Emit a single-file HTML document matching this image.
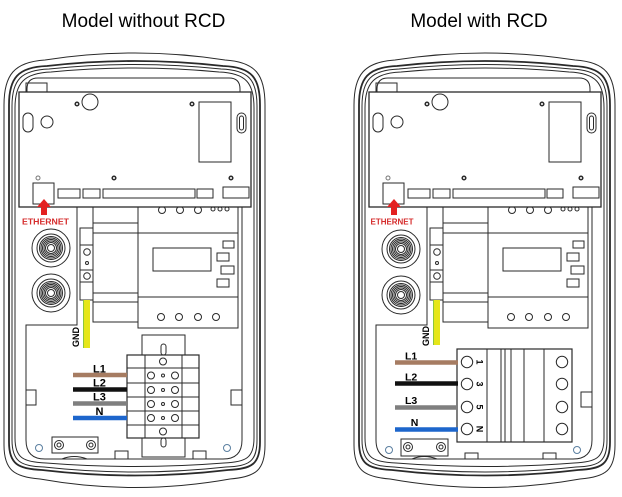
<!DOCTYPE html>
<html><head><meta charset="utf-8"><style>
html,body{margin:0;padding:0;background:#fff;}
svg{display:block;font-family:"Liberation Sans",Arial,sans-serif;}
</style></head><body>
<svg width="622" height="497" viewBox="0 0 622 497" xmlns="http://www.w3.org/2000/svg">
<rect width="622" height="497" fill="#fff"/>
<text x="143.5" y="27" font-size="19" text-anchor="middle" fill="#000">Model without RCD</text>
<text x="479" y="27" font-size="19" text-anchor="middle" fill="#000">Model with RCD</text>

<!-- ================= LEFT ================= -->
<g fill="none" stroke="#2a2a2a" stroke-width="1">
 <path d="M4,105 C4,75 14,62 45,60 Q135,46 225,60 C256,62 265,75 265,105 L265,445 C265,470 256,477 230,479 Q135,496 40,479 C14,477 4,470 4,445 Z"/>
 <path stroke-width="1.8" d="M9,105 C9,78 18,67 47,66 Q135,56 223,66 C252,67 260,78 260,105 L260,442 C260,464 252,469 228,470 Q135,481 42,470 C18,469 9,464 9,442 Z"/>
 <path d="M12,106 C12,80 21,70 49,69 Q135,60 221,69 C249,70 257,80 257,106 L257,440 C257,462 249,466 226,467 Q135,477 44,467 C21,466 12,462 12,440 Z"/>
 <path d="M15,108 C15,83 24,73 51,72 Q135,64 219,72 C246,73 254,83 254,108 L254,438 C254,458 246,462 224,463 Q135,470 46,463 C23,462 15,458 15,438 Z"/>
 <path d="M27,92 L27,89 Q27,78 38,78 L229,78 Q240,78 240,89 L240,92"/>
 <rect x="26" y="83" width="21" height="9"/>
 <!-- compartments -->
 <path d="M77,207 V325 H26 V440 Q26,459 45,459 H223 Q242,459 242,440 V207"/>
 <path d="M26,390 H36 V405 H26"/>
 <path d="M242,390 H231 V405 H242"/>
 <path d="M115,459 V451 H128 V459"/>
 <path d="M193,459 V451 H206 V459"/>
 <path d="M62,459 Q74,454 87,459"/>
 <!-- meter circles behind board -->
 <circle cx="162" cy="210" r="3.5"/><circle cx="180" cy="210" r="3.5"/><circle cx="198" cy="210" r="3.5"/>
 <circle cx="213" cy="209" r="2"/><circle cx="220" cy="209" r="2"/><circle cx="227" cy="209" r="2"/>
 <!-- module column -->
 <path d="M93,207 V322 H138"/>
 <path d="M93,223 H138 M93,233 H138 M93,293 H138 M93,302 H138"/>
 <!-- meter -->
 <path d="M138,207 V328 H238 V207"/>
 <path d="M138,233 H238 M138,297 H238"/>
 <rect x="153" y="248" width="58" height="23"/>
 <rect x="223" y="241" width="11" height="7"/>
 <rect x="217" y="253" width="12" height="8"/>
 <rect x="221" y="266" width="13" height="8"/>
 <rect x="217" y="279" width="12" height="8"/>
 <circle cx="161" cy="317" r="3.5"/><circle cx="179" cy="317" r="3.5"/><circle cx="198" cy="317" r="3.5"/><circle cx="216" cy="317" r="3.5"/>
 <!-- board -->
 <rect x="19" y="92" width="232" height="115" fill="#fff" stroke-width="1.3"/>
 <circle cx="77" cy="104" r="1.8" stroke-width="1.5"/>
 <circle cx="90" cy="102" r="8"/>
 <rect x="23" y="113" width="10" height="19" rx="5"/>
 <circle cx="47" cy="122" r="6"/>
 <circle cx="192" cy="104" r="1.8" stroke-width="1.5"/>
 <rect x="199" y="102" width="32" height="60"/>
 <rect x="237" y="113" width="9" height="20" rx="4.5"/>
 <rect x="239.5" y="116" width="4" height="14" rx="2"/>
 <circle cx="38" cy="178" r="2" stroke="#777"/>
 <circle cx="114" cy="178" r="1.8" stroke-width="1.5"/>
 <circle cx="231" cy="178" r="1.8" stroke-width="1.5"/>
 <rect x="33" y="183" width="21" height="21"/>
 <rect x="58" y="189" width="22" height="9"/>
 <rect x="83" y="189" width="17" height="9"/>
 <rect x="103" y="189" width="92" height="9"/>
 <rect x="197" y="189" width="16" height="9"/>
 <rect x="223" y="187" width="26" height="11"/>
 <!-- glands -->
 <g>
  <circle cx="51" cy="248" r="19"/><circle cx="51" cy="248" r="14"/><circle cx="51" cy="248" r="11.5"/><circle cx="51" cy="248" r="10"/><circle cx="51" cy="248" r="8.5"/><circle cx="51" cy="248" r="7"/><circle cx="51" cy="248" r="5.5"/><circle cx="51" cy="248" r="3.5"/>
  <circle cx="51" cy="293" r="19"/><circle cx="51" cy="293" r="14"/><circle cx="51" cy="293" r="11.5"/><circle cx="51" cy="293" r="10"/><circle cx="51" cy="293" r="8.5"/><circle cx="51" cy="293" r="7"/><circle cx="51" cy="293" r="5.5"/><circle cx="51" cy="293" r="3.5"/>
 </g>
 <!-- GND strip -->
 <rect x="80" y="228" width="13" height="72"/>
 <path d="M80,245 H93 M80,270 H93 M80,282 H93"/>
 <circle cx="87" cy="252" r="3.3"/><circle cx="87" cy="263" r="1.5"/><circle cx="87" cy="276" r="3.3"/>
 <!-- mounting -->
 <circle cx="39" cy="448" r="3.5" stroke="#5a7fa0"/>
 <circle cx="227" cy="448" r="3.5" stroke="#5a7fa0"/>
 <rect x="52" y="437" width="46" height="16"/>
 <circle cx="59" cy="445" r="4.5"/><circle cx="59" cy="445" r="2"/>
 <circle cx="91" cy="445" r="4.5"/><circle cx="91" cy="445" r="2"/>
 <!-- terminal block -->
 <rect x="142" y="335" width="43" height="20" fill="#fff"/>
 <rect x="161" y="344" width="5" height="11" rx="2.5"/>
 <rect x="127" y="355" width="72" height="83" fill="#fff" stroke-width="1.2"/>
 <path d="M127,368 H199 M127,383 H199 M127,397 H199 M127,411 H199 M127,425 H199 M145,355 V438 M182,355 V438"/>
 <circle cx="163" cy="361.5" r="3.5"/>
 <circle cx="151" cy="375.5" r="3.5"/><circle cx="163" cy="375.5" r="1.5"/><circle cx="175" cy="375.5" r="3.5"/>
 <circle cx="151" cy="390" r="3.5"/><circle cx="163" cy="390" r="1.5"/><circle cx="175" cy="390" r="3.5"/>
 <circle cx="151" cy="404" r="3.5"/><circle cx="163" cy="404" r="1.5"/><circle cx="175" cy="404" r="3.5"/>
 <circle cx="151" cy="418" r="3.5"/><circle cx="163" cy="418" r="1.5"/><circle cx="175" cy="418" r="3.5"/>
 <circle cx="163" cy="431.5" r="3.5"/>
 <rect x="142" y="438" width="43" height="19"/>
 <rect x="161" y="438" width="5" height="9" rx="2.5"/>
</g>
<rect x="83" y="300" width="7" height="48" fill="#e6e61a"/>
<line x1="83.5" y1="300" x2="83.5" y2="348" stroke="#8cc63f" stroke-width="1"/>
<text transform="translate(79,337) rotate(-90)" text-anchor="middle" font-size="9" font-weight="bold" fill="#000">GND</text>
<path d="M44,199 L51,207 L47,207 L47,215 L41,215 L41,207 L37,207 Z" fill="#e32020"/>
<text x="45.5" y="224.5" text-anchor="middle" font-size="8.7" font-weight="bold" fill="#d52b2b" textLength="47" lengthAdjust="spacingAndGlyphs">ETHERNET</text>
<g stroke-width="4.5">
 <line x1="73" y1="375" x2="127" y2="375" stroke="#a67c62"/>
 <line x1="73" y1="389.5" x2="127" y2="389.5" stroke="#111"/>
 <line x1="73" y1="403.5" x2="127" y2="403.5" stroke="#7f7f7f"/>
 <line x1="73" y1="418" x2="127" y2="418" stroke="#1d66cc"/>
</g>
<g font-size="11" font-weight="bold" fill="#000">
 <text x="93" y="372.5">L1</text>
 <text x="93" y="386.5">L2</text>
 <text x="93" y="400.5">L3</text>
 <text x="99.5" y="415" text-anchor="middle">N</text>
</g>

<!-- ================= RIGHT ================= -->
<g transform="translate(350,0)">
<g fill="none" stroke="#2a2a2a" stroke-width="1">
 <path d="M4,105 C4,75 14,62 45,60 Q135,46 225,60 C256,62 265,75 265,105 L265,445 C265,470 256,477 230,479 Q135,496 40,479 C14,477 4,470 4,445 Z"/>
 <path stroke-width="1.8" d="M9,105 C9,78 18,67 47,66 Q135,56 223,66 C252,67 260,78 260,105 L260,442 C260,464 252,469 228,470 Q135,481 42,470 C18,469 9,464 9,442 Z"/>
 <path d="M12,106 C12,80 21,70 49,69 Q135,60 221,69 C249,70 257,80 257,106 L257,440 C257,462 249,466 226,467 Q135,477 44,467 C21,466 12,462 12,440 Z"/>
 <path d="M15,108 C15,83 24,73 51,72 Q135,64 219,72 C246,73 254,83 254,108 L254,438 C254,458 246,462 224,463 Q135,470 46,463 C23,462 15,458 15,438 Z"/>
 <path d="M27,92 L27,89 Q27,78 38,78 L229,78 Q240,78 240,89 L240,92"/>
 <rect x="26" y="83" width="21" height="9"/>
 <path d="M77,207 V325 H26 V440 Q26,459 45,459 H223 Q242,459 242,440 V207"/>
 <path d="M242,392 H231 V407 H242"/>
 <path d="M115,459 V453 H128 V459"/>
 <path d="M193,459 V453 H206 V459"/>
 <path d="M62,459 Q74,454 87,459"/>
 <circle cx="162" cy="210" r="3.5"/><circle cx="180" cy="210" r="3.5"/><circle cx="198" cy="210" r="3.5"/>
 <circle cx="213" cy="209" r="2"/><circle cx="220" cy="209" r="2"/><circle cx="227" cy="209" r="2"/>
 <path d="M93,207 V322 H138"/>
 <path d="M93,223 H138 M93,233 H138 M93,293 H138 M93,302 H138"/>
 <path d="M138,207 V328 H238 V207"/>
 <path d="M138,233 H238 M138,297 H238"/>
 <rect x="153" y="248" width="58" height="23"/>
 <rect x="223" y="241" width="11" height="7"/>
 <rect x="217" y="253" width="12" height="8"/>
 <rect x="221" y="266" width="13" height="8"/>
 <rect x="217" y="279" width="12" height="8"/>
 <circle cx="161" cy="317" r="3.5"/><circle cx="179" cy="317" r="3.5"/><circle cx="198" cy="317" r="3.5"/><circle cx="216" cy="317" r="3.5"/>
 <rect x="19" y="92" width="232" height="115" fill="#fff" stroke-width="1.3"/>
 <circle cx="77" cy="104" r="1.8" stroke-width="1.5"/>
 <circle cx="90" cy="102" r="8"/>
 <rect x="23" y="113" width="10" height="19" rx="5"/>
 <circle cx="47" cy="122" r="6"/>
 <circle cx="192" cy="104" r="1.8" stroke-width="1.5"/>
 <rect x="199" y="102" width="32" height="60"/>
 <rect x="237" y="113" width="9" height="20" rx="4.5"/>
 <rect x="239.5" y="116" width="4" height="14" rx="2"/>
 <circle cx="38" cy="178" r="2" stroke="#777"/>
 <circle cx="114" cy="178" r="1.8" stroke-width="1.5"/>
 <circle cx="231" cy="178" r="1.8" stroke-width="1.5"/>
 <rect x="33" y="183" width="21" height="21"/>
 <rect x="58" y="189" width="22" height="9"/>
 <rect x="83" y="189" width="17" height="9"/>
 <rect x="103" y="189" width="92" height="9"/>
 <rect x="197" y="189" width="16" height="9"/>
 <rect x="223" y="187" width="26" height="11"/>
 <g>
  <circle cx="51" cy="249" r="19"/><circle cx="51" cy="249" r="14"/><circle cx="51" cy="249" r="11.5"/><circle cx="51" cy="249" r="10"/><circle cx="51" cy="249" r="8.5"/><circle cx="51" cy="249" r="7"/><circle cx="51" cy="249" r="5.5"/><circle cx="51" cy="249" r="3.5"/>
  <circle cx="51" cy="295" r="19"/><circle cx="51" cy="295" r="14"/><circle cx="51" cy="295" r="11.5"/><circle cx="51" cy="295" r="10"/><circle cx="51" cy="295" r="8.5"/><circle cx="51" cy="295" r="7"/><circle cx="51" cy="295" r="5.5"/><circle cx="51" cy="295" r="3.5"/>
 </g>
 <rect x="80" y="228" width="13" height="72"/>
 <path d="M80,245 H93 M80,270 H93 M80,282 H93"/>
 <circle cx="87" cy="252" r="3.3"/><circle cx="87" cy="263" r="1.5"/><circle cx="87" cy="276" r="3.3"/>
 <circle cx="39" cy="450" r="3.5" stroke="#5a7fa0"/>
 <circle cx="227" cy="450" r="3.5" stroke="#5a7fa0"/>
 <rect x="51" y="439" width="47" height="17"/>
 <circle cx="58" cy="447" r="4.5"/><circle cx="58" cy="447" r="2"/>
 <circle cx="91" cy="447" r="4.5"/><circle cx="91" cy="447" r="2"/>
 <!-- RCD -->
 <rect x="107" y="349" width="115" height="93" fill="#fff" stroke-width="1.2"/>
 <path d="M137,349 V442 M151,349 V442 M155,349 V442 M161,349 V442 M174,349 V442 M194,349 V442"/>
 <circle cx="117" cy="362" r="5.7"/><circle cx="117" cy="384" r="5.7"/><circle cx="117" cy="407" r="5.7"/><circle cx="117" cy="429" r="5.7"/>
 <circle cx="212" cy="362" r="5.7"/><circle cx="212" cy="384" r="5.7"/><circle cx="212" cy="407" r="5.7"/><circle cx="212" cy="429" r="5.7"/>
</g>
<rect x="83" y="300" width="7" height="45" fill="#e6e61a"/>
<line x1="83.5" y1="300" x2="83.5" y2="345" stroke="#8cc63f" stroke-width="1"/>
<text transform="translate(79,336) rotate(-90)" text-anchor="middle" font-size="9" font-weight="bold" fill="#000">GND</text>
<path d="M44,199 L51,207 L47,207 L47,215 L41,215 L41,207 L37,207 Z" fill="#e32020"/>
<text x="42" y="224.5" text-anchor="middle" font-size="8.3" font-weight="bold" fill="#d52b2b" textLength="43" lengthAdjust="spacingAndGlyphs">ETHERNET</text>
<g font-size="9" font-weight="bold" fill="#000" text-anchor="middle">
 <text transform="translate(126.5,362) rotate(90)">1</text>
 <text transform="translate(126.5,384) rotate(90)">3</text>
 <text transform="translate(126.5,407) rotate(90)">5</text>
 <text transform="translate(126.5,429) rotate(90)">N</text>
</g>
<g stroke-width="4.5">
 <line x1="45" y1="362.5" x2="108" y2="362.5" stroke="#a67c62"/>
 <line x1="45" y1="383.5" x2="108" y2="383.5" stroke="#111"/>
 <line x1="45" y1="407.5" x2="108" y2="407.5" stroke="#7f7f7f"/>
 <line x1="45" y1="429.5" x2="108" y2="429.5" stroke="#1d66cc"/>
</g>
<g font-size="10.5" font-weight="bold" fill="#000">
 <text x="55" y="359.5">L1</text>
 <text x="55" y="380.5">L2</text>
 <text x="55" y="404">L3</text>
 <text x="64.5" y="426" text-anchor="middle">N</text>
</g>
</g>
</svg>
</body></html>
